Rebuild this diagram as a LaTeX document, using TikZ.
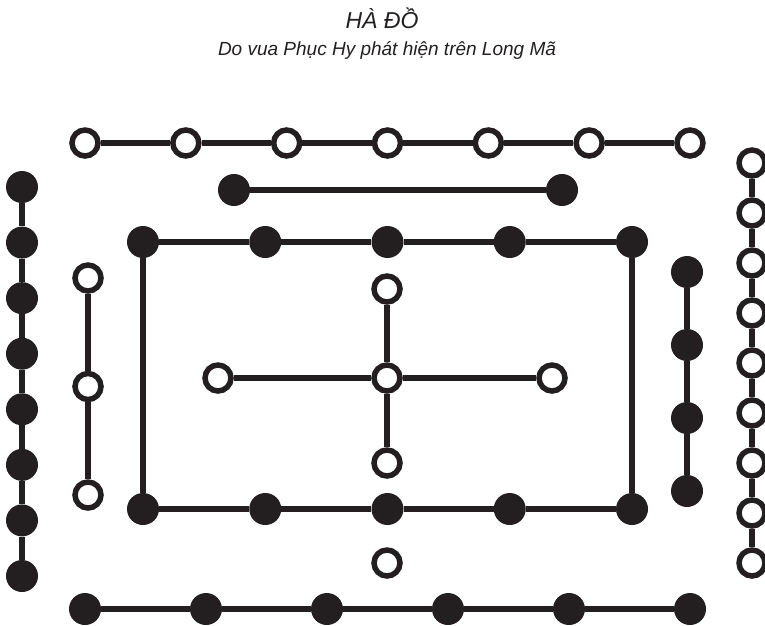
\documentclass[tikz,border=0pt]{standalone}
\usepackage{fontspec}
\setmainfont{Liberation Sans}
\definecolor{ink}{RGB}{35,31,32}
\tikzset{
  yang/.style={circle, draw=ink, line width=5.5pt, fill=white, inner sep=0pt, minimum size=26pt},
  yin/.style={circle, fill=ink, inner sep=0pt, minimum size=32pt},
  link/.style={draw=ink, line width=5.5pt},
  heading/.style={anchor=base, text=ink}
}
\begin{document}
\begin{tikzpicture}[x=1pt, y=-1pt]
\useasboundingbox (0,0) rectangle (765,625);
\node[heading, font=\itshape\fontsize{23}{27}\selectfont] (title) at (382,28) {HÀ ĐỒ};
\node[heading, font=\itshape\fontsize{19}{23}\selectfont] (subtitle) at (387,55) {Do vua Phục Hy phát hiện trên Long Mã};
% top row
\foreach \i in {0,...,6} \node[yang] (t\i) at ({85+100.83*\i},143) {};
\foreach \i [count=\j from 1] in {0,...,5} \draw[link] (t\i) -- (t\j);
% short bar
\node[yin] (s0) at (234,190) {};
\node[yin] (s1) at (562,190) {};
\draw[link] (s0) -- (s1);
% frame
\foreach \i in {0,...,4} {
  \node[yin] (r\i) at ({143+122.25*\i},242) {};
  \node[yin] (b\i) at ({143+122.25*\i},509) {};
}
\foreach \i [count=\j from 1] in {0,...,3} \draw[link] (r\i) -- (r\j) (b\i) -- (b\j);
\draw[link] (r0) -- (b0) (r4) -- (b4);
% left column
\foreach \i in {0,...,7} \node[yin] (l\i) at (22,{187+55.57*\i}) {};
\foreach \i [count=\j from 1] in {0,...,6} \draw[link] (l\i) -- (l\j);
% right column
\foreach \i in {0,...,8} \node[yang] (e\i) at (752,{163+50*\i}) {};
\foreach \i [count=\j from 1] in {0,...,7} \draw[link] (e\i) -- (e\j);
% inner left and right
\foreach \i in {0,...,2} \node[yang] (w\i) at (88,{278+108.5*\i}) {};
\draw[link] (w0) -- (w1) -- (w2);
\foreach \i in {0,...,3} \node[yin] (k\i) at (687,{272+73*\i}) {};
\draw[link] (k0) -- (k1) -- (k2) -- (k3);
% centre cross
\node[yang] (mid) at (387,378) {};
\node[yang] (up) at (387,289) {};
\node[yang] (down) at (387,463) {};
\node[yang] (west) at (218,378) {};
\node[yang] (east) at (552,378) {};
\draw[link] (up) -- (mid) -- (down) (west) -- (mid) -- (east);
\node[yang] (lone) at (387,563) {};
% bottom row
\foreach \i in {0,...,5} \node[yin] (d\i) at ({85+121*\i},609) {};
\foreach \i [count=\j from 1] in {0,...,4} \draw[link] (d\i) -- (d\j);
\end{tikzpicture}
\end{document}
